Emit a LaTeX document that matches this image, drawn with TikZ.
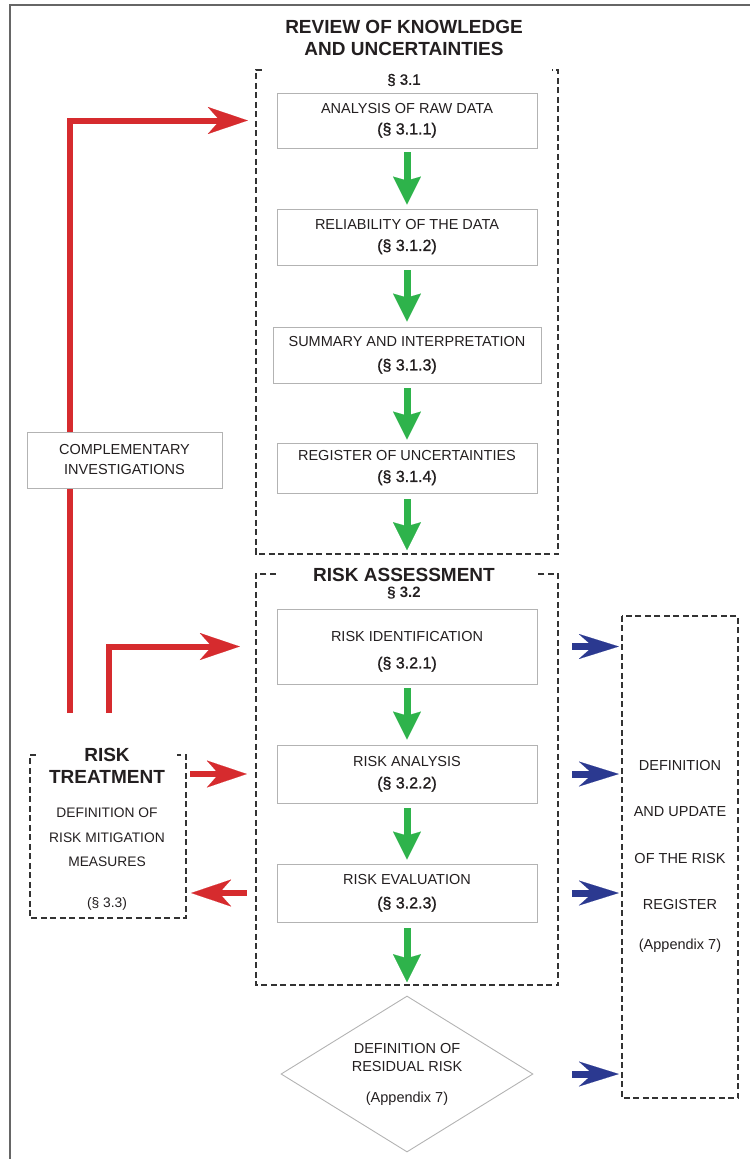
\documentclass[tikz,border=0pt]{standalone}
\usepackage{fontspec}
\setmainfont{Liberation Sans}
\newfontfamily\semib[FakeBold=1.2]{Liberation Sans}
\usetikzlibrary{arrows.meta,shapes.geometric}
\definecolor{redc}{HTML}{D62B2E}
\definecolor{bluec}{HTML}{2B3990}
\definecolor{greenc}{HTML}{2EB34B}
\definecolor{txtc}{HTML}{231F20}
\definecolor{boxc}{HTML}{B3B3B3}
\definecolor{framec}{HTML}{666666}
\definecolor{dashc}{HTML}{333333}
\newcommand{\secref}[1]{{\semib\fontsize{16}{21}\selectfont #1}}
\tikzset{
  box/.style={draw=boxc, line width=0.9pt, fill=white, minimum width=260pt, inner sep=0pt,
    align=center, text=txtc, font=\fontsize{14.5}{21}\selectfont},
  area/.style={draw=none, inner sep=0pt},
  dashbox/.style={draw=dashc, line width=1.7pt, dash pattern=on 6pt off 3.5pt},
  ttl/.style={font=\fontsize{19}{22.5}\selectfont\bfseries, text=txtc, align=center, inner sep=0pt},
  sec/.style={font=\semib\fontsize{15}{17}\selectfont, text=txtc, inner sep=0pt},
  lbl/.style={font=\fontsize{14.5}{21}\selectfont, text=txtc, align=center, inner sep=0pt},
  greenarr/.style={draw=greenc, line width=7pt, -{Stealth[length=28pt,width=28pt,inset=4pt,line width=0.1pt]}},
  redarr/.style={draw=redc, line width=6pt, -{Stealth[length=40pt,width=27pt,inset=12pt,line width=0.1pt]}},
  bluearr/.style={draw=bluec, line width=7pt, -{Stealth[length=40pt,width=25pt,inset=14pt,line width=0.1pt]}},
  framel/.style={draw=framec, line width=2pt}
}
\begin{document}
\begin{tikzpicture}[x=1pt,y=-1pt]
\useasboundingbox (0,0) rectangle (750,1159);
% outer frame (partial)
\draw[framel] (10,1159) -- (10,5) -- (750,5);

% areas (dashed groups)
\node[area, minimum width=302pt, minimum height=484pt] (b1) at (407,312) {};
\node[area, minimum width=302pt, minimum height=411pt] (b2) at (407,779.5) {};
\node[area, minimum width=156pt, minimum height=163pt] (rt) at (108,836.5) {};
\node[area, minimum width=116pt, minimum height=482pt] (rr) at (680,857) {};

\draw[dashbox] ([xshift=6pt]b1.north west) -- (b1.north west) -- (b1.south west) -- (b1.south east) -- (b1.north east) -- ([xshift=-6pt]b1.north east);
\draw[dashbox] ([xshift=20pt]b2.north west) -- (b2.north west) -- (b2.south west) -- (b2.south east) -- (b2.north east) -- ([xshift=-20pt]b2.north east);
\draw[dashbox] ([xshift=6pt]rt.north west) -- (rt.north west) -- (rt.south west) -- (rt.south east) -- (rt.north east) -- ([xshift=-9pt]rt.north east);
\draw[dashbox] (rr.north west) rectangle (rr.south east);

% titles
\node[ttl] (t1) at (404,38) {REVIEW OF KNOWLEDGE\\AND UNCERTAINTIES};
\node[sec] (s1) at (404,80) {§ 3.1};
\node[ttl] (t2) at (404,575) {RISK ASSESSMENT};
\node[sec, font=\fontsize{15}{17}\selectfont\bfseries] (s2) at (404,593) {§ 3.2};

% boxes of section 3.1
\node[box, minimum height=55pt] (a1) at (407,120.5) {ANALYSIS OF RAW DATA\\\secref{(§ 3.1.1)}};
\node[box, minimum height=56pt] (a2) at (407,237) {RELIABILITY OF THE DATA\\\secref{(§ 3.1.2)}};
\node[box, minimum height=56pt, minimum width=268pt] (a3) at (407,355) {SUMMARY AND INTERPRETATION\\[3pt]\secref{(§ 3.1.3)}};
\node[box, minimum height=50pt] (a4) at (407,468) {REGISTER OF UNCERTAINTIES\\\secref{(§ 3.1.4)}};

% boxes of section 3.2
\node[box, minimum height=75pt] (c1) at (407,646.5) {};
\node[lbl] (c1t) at ([yshift=-5pt]c1.center) {RISK IDENTIFICATION\\[6pt]\secref{(§ 3.2.1)}};
\node[box, minimum height=58pt] (c2) at (407,774) {RISK ANALYSIS\\[1pt]\secref{(§ 3.2.2)}};
\node[box, minimum height=58pt] (c3) at (407,893) {RISK EVALUATION\\[3pt]\secref{(§ 3.2.3)}};

% diamond
\node[draw=boxc, line width=0.9pt, shape=diamond, shape aspect=1.6, inner sep=0pt,
  minimum width=252pt, minimum height=156pt, align=center, text=txtc,
  font=\fontsize{14.5}{18}\selectfont] (dm) at (407,1074)
  {DEFINITION OF\\RESIDUAL RISK\\[13pt](Appendix 7)};

% risk treatment texts
\node[ttl] (rtt) at (107,766) {RISK\\TREATMENT};
\node[lbl, font=\fontsize{13.8}{24.5}\selectfont] (rtb) at (107,859)
  {DEFINITION OF\\RISK MITIGATION\\MEASURES\\[16pt](§ 3.3)};

% register texts
\node[lbl, font=\fontsize{14.5}{46.5}\selectfont] (rrt) at (680,856)
  {DEFINITION\\AND UPDATE\\OF THE RISK\\REGISTER\\[-7pt](Appendix 7)};

% green arrows
\draw[greenarr, shorten <=4pt, shorten >=4pt] (a1.south) -- (a2.north);
\draw[greenarr, shorten <=5pt, shorten >=5pt] (a2.south) -- (a3.north);
\draw[greenarr, shorten <=5pt, shorten >=3pt] (a3.south) -- (a4.north);
\draw[greenarr, shorten <=6pt, shorten >=4pt] (a4.south) -- (b1.south);
\draw[greenarr, shorten <=4pt, shorten >=5pt] (c1.south) -- (c2.north);
\draw[greenarr, shorten <=5pt, shorten >=4pt] (c2.south) -- (c3.north);
\draw[greenarr, shorten <=6pt, shorten >=3pt] (c3.south) -- (b2.south);

% blue arrows
\draw[bluearr, shorten <=14pt, shorten >=3pt] (b2.east |- c1) -- (rr.west |- c1);
\draw[bluearr, shorten <=14pt, shorten >=3pt] (b2.east |- c2) -- (rr.west |- c2);
\draw[bluearr, shorten <=14pt, shorten >=3pt] (b2.east |- c3) -- (rr.west |- c3);
\draw[bluearr, shorten <=14pt, shorten >=3pt] (b2.east |- dm) -- (rr.west |- dm);

% red arrows
\coordinate (r1) at (70,713);
\coordinate (r2) at (109,713);
\draw[redarr, shorten >=8pt] (r1) |- (b1.west |- a1);
\draw[redarr, shorten >=16pt] (r2) |- (b2.west |- c1);
\draw[redarr, shorten <=4pt, shorten >=9pt] (rt.east |- c2) -- (b2.west |- c2);
\draw[redarr, shorten <=9pt, shorten >=5pt] (b2.west |- c3) -- (rt.east |- c3);

% complementary investigations (over the red line)
\node[box, minimum width=195pt, minimum height=56pt, font=\fontsize{14.5}{20}\selectfont] (ci) at (124.5,460)
  {COMPLEMENTARY\\INVESTIGATIONS};
\end{tikzpicture}
\end{document}
